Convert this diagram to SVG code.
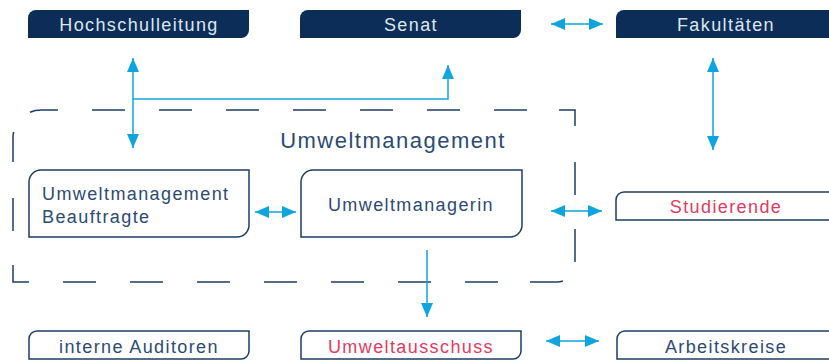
<svg xmlns="http://www.w3.org/2000/svg" width="829" height="361" viewBox="0 0 829 361">
<defs>
<marker id="ah" viewBox="0 0 14 12" markerWidth="14" markerHeight="12" refX="14" refY="6" orient="auto-start-reverse" markerUnits="userSpaceOnUse">
<path d="M0,0 L14,6 L0,12 Z" fill="#0ea5df"/>
</marker>
</defs>
<style>
.dark{fill:#0b2d58;}
.light{fill:#ffffff;stroke:#1e3d66;stroke-width:1.5;}
.t{font-family:"Liberation Sans",Arial,sans-serif;font-size:18px;letter-spacing:1.4px;text-anchor:middle;}
.tw{fill:#dfe5ec;}
.tn{fill:#2d4b72;}
.tr{fill:#e33b5f;}
.frame{fill:none;stroke:#1e3d66;stroke-width:1.5;}
.c{fill:none;stroke:#0ea5df;stroke-width:1.5;}
</style>
<rect width="829" height="361" fill="#ffffff"/>
<g id="umweltmanagement-frame">
<path class="frame" d="M13,162 V138 A28,28 0 0 1 13.65,132 M30,112.3 A28,28 0 0 1 41,110 H58 M92,110 H125 M159,110 H192 M226,110 H259 M293,110 H326 M360,110 H393 M427,110 H460 M494,110 H527 M559,110 H575 V126 M575,162 V195 M575,229 V262 M530,282 H557 A18,18 0 0 0 562.9,281 M465,282 H498 M398,282 H431 M331,282 H364 M264,282 H297 M197,282 H230 M130,282 H163 M63,282 H96 M29,282 H13 V265 M13,198 V231"/>
<text class="t tn" x="393" y="148" style="font-size:22px;letter-spacing:1.5px">Umweltmanagement</text>
</g>
<g id="hochschulleitung">
<path class="dark" d="M28,38 V18 A8,8 0 0 1 36,10 H249 V30 A8,8 0 0 1 241,38 Z"/>
<text class="t tw" x="139" y="31">Hochschulleitung</text>
</g>
<g id="senat">
<path class="dark" d="M300,38 V18 A8,8 0 0 1 308,10 H521 V30 A8,8 0 0 1 513,38 Z"/>
<text class="t tw" x="411" y="31">Senat</text>
</g>
<g id="fakultaeten">
<path class="dark" d="M616,38 V18 A8,8 0 0 1 624,10 H840 V38 Z"/>
<text class="t tw" x="726" y="31">Fakultäten</text>
</g>
<g id="beauftragte">
<path class="light" d="M29,237 V182 A12,12 0 0 1 41,170 H249 V225 A12,12 0 0 1 237,237 Z"/>
<text class="t tn" x="42" y="200" style="text-anchor:start">Umweltmanagement</text>
<text class="t tn" x="42" y="223" style="text-anchor:start">Beauftragte</text>
</g>
<g id="umweltmanagerin">
<path class="light" d="M301,237 V182 A12,12 0 0 1 313,170 H522 V225 A12,12 0 0 1 510,237 Z"/>
<text class="t tn" x="411" y="211">Umweltmanagerin</text>
</g>
<g id="studierende">
<path class="light" d="M616,220 V200 A8,8 0 0 1 624,192 H840 V220 Z"/>
<text class="t tr" x="726" y="213">Studierende</text>
</g>
<g id="interne-auditoren">
<path class="light" d="M29,359 V339 A8,8 0 0 1 37,331 H249 V351 A8,8 0 0 1 241,359 Z"/>
<text class="t tn" x="139" y="353">interne Auditoren</text>
</g>
<g id="umweltausschuss">
<path class="light" d="M301,359 V339 A8,8 0 0 1 309,331 H521 V351 A8,8 0 0 1 513,359 Z"/>
<text class="t tr" x="411" y="353">Umweltausschuss</text>
</g>
<g id="arbeitskreise">
<path class="light" d="M617,359 V339 A8,8 0 0 1 625,331 H840 V359 Z"/>
<text class="t tn" x="726" y="353">Arbeitskreise</text>
</g>
<g id="connectors">
<path class="c" d="M133,58 V148" marker-start="url(#ah)" marker-end="url(#ah)"/>
<path class="c" d="M133,99 H448 V65" marker-end="url(#ah)"/>
<path class="c" d="M551,24 H603" marker-start="url(#ah)" marker-end="url(#ah)"/>
<path class="c" d="M713,58 V150" marker-start="url(#ah)" marker-end="url(#ah)"/>
<path class="c" d="M255,212 H296" marker-start="url(#ah)" marker-end="url(#ah)"/>
<path class="c" d="M551,211 H602" marker-start="url(#ah)" marker-end="url(#ah)"/>
<path class="c" d="M427,250 V317" marker-end="url(#ah)"/>
<path class="c" d="M546,341 H599" marker-start="url(#ah)" marker-end="url(#ah)"/>
</g>
</svg>
